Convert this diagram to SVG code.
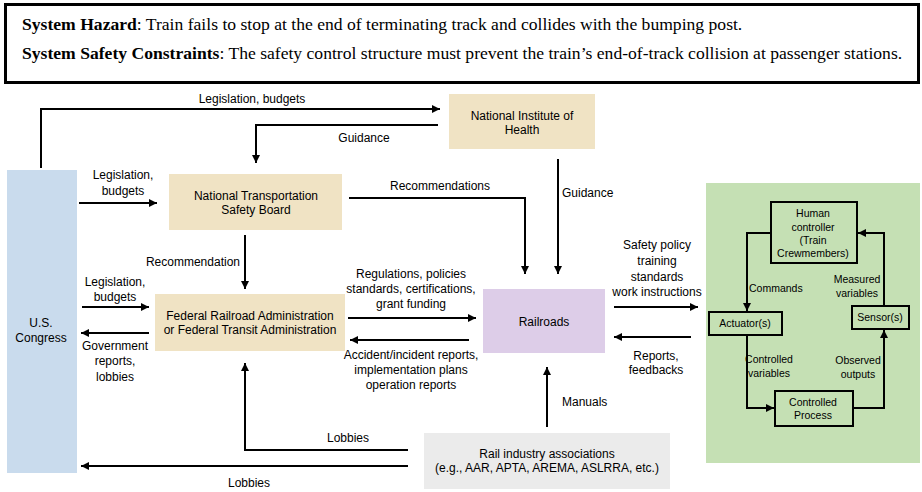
<svg xmlns="http://www.w3.org/2000/svg" width="922" height="492" viewBox="0 0 922 492">
<style>
.hdr{font-family:"Liberation Serif","Times New Roman",serif;font-size:17.6px;fill:#000}
.hdr .b{font-weight:bold}
.t{font-family:"Liberation Sans",Arial,sans-serif;font-size:12px;fill:#000;text-anchor:middle}
.s{font-family:"Liberation Sans",Arial,sans-serif;font-size:10.5px;fill:#000;text-anchor:middle}
.ln{fill:none;stroke:#000;stroke-width:2}
.gb{fill:none;stroke:#000;stroke-width:2}
</style>
<defs>
<marker id="ah" markerUnits="userSpaceOnUse" markerWidth="10" markerHeight="10" refX="8" refY="4" orient="auto">
<path d="M0,0 L8,4 L0,8 Z" fill="#000"/>
</marker>
</defs>
<rect width="922" height="492" fill="#fff"/>
<g id="header">
<rect x="5.5" y="4.5" width="913" height="78" fill="#fff" stroke="#000" stroke-width="3"/>
<text class="hdr" x="22" y="30"><tspan class="b">System Hazard</tspan>: Train fails to stop at the end of terminating track and collides with the bumping post.</text>
<text class="hdr" x="22" y="59"><tspan class="b">System Safety Constraints</tspan>: The safety control structure must prevent the train’s end-of-track collision at passenger stations.</text>
</g>
<g id="congress">
<rect x="7" y="170" width="70" height="303" fill="#c9dbed"/>
<text class="t" x="41" y="327">U.S.</text>
<text class="t" x="41" y="342">Congress</text>
</g>
<g id="nih">
<rect x="449" y="94" width="146" height="55" fill="#f0e3c4"/>
<text class="t" x="522" y="120">National Institute of</text>
<text class="t" x="522" y="134">Health</text>
</g>
<g id="ntsb">
<rect x="169" y="174" width="173" height="56" fill="#f0e3c4"/>
<text class="t" x="256" y="200">National Transportation</text>
<text class="t" x="256" y="214">Safety Board</text>
</g>
<g id="fra">
<rect x="155" y="294" width="190" height="57" fill="#f0e3c4"/>
<text class="t" x="250" y="320">Federal Railroad Administration</text>
<text class="t" x="250" y="334">or Federal Transit Administration</text>
</g>
<g id="railroads">
<rect x="483" y="289" width="122" height="64" fill="#ddcde8"/>
<text class="t" x="544" y="326">Railroads</text>
</g>
<g id="associations">
<rect x="424" y="433" width="246" height="56" fill="#ebebeb"/>
<text class="t" x="547" y="458">Rail industry associations</text>
<text class="t" x="547" y="472">(e.g., AAR, APTA, AREMA,  ASLRRA, etc.)</text>
</g>
<g id="process-panel">
<rect x="706" y="183" width="214" height="280" fill="#c5e0b4"/>
</g>
<g id="human-controller">
<rect class="gb" x="771" y="202" width="86" height="61"/>
<text class="s" x="813" y="217">Human</text>
<text class="s" x="813" y="231">controller</text>
<text class="s" x="813" y="244">(Train</text>
<text class="s" x="813" y="257">Crewmembers)</text>
</g>
<g id="actuator">
<rect class="gb" x="709" y="312" width="73" height="23"/>
<text class="s" x="745" y="327">Actuator(s)</text>
</g>
<g id="sensor">
<rect class="gb" x="852" y="306" width="57" height="23"/>
<text class="s" x="880" y="321">Sensor(s)</text>
</g>
<g id="controlled-process">
<rect class="gb" x="775" y="391" width="78" height="35"/>
<text class="s" x="813" y="406">Controlled</text>
<text class="s" x="813" y="419">Process</text>
</g>
<g id="connectors">
<path class="ln" d="M41,168 V109 H440" marker-end="url(#ah)"/>
<text class="t" x="252" y="103">Legislation, budgets</text>
<path class="ln" d="M438,125 H256 V163" marker-end="url(#ah)"/>
<text class="t" x="364" y="142">Guidance</text>
<path class="ln" d="M79,203 H157" marker-end="url(#ah)"/>
<text class="t" x="123" y="179">Legislation,</text>
<text class="t" x="123" y="195">budgets</text>
<path class="ln" d="M349,198 H525 V274" marker-end="url(#ah)"/>
<text class="t" x="440" y="190">Recommendations</text>
<path class="ln" d="M558,159 V274" marker-end="url(#ah)"/>
<text class="t" x="562" y="197" style="text-anchor:start">Guidance</text>
<path class="ln" d="M245,235 V289" marker-end="url(#ah)"/>
<text class="t" x="240" y="266" style="text-anchor:end">Recommendation</text>
<path class="ln" d="M82,307 H149" marker-end="url(#ah)"/>
<text class="t" x="115" y="286">Legislation,</text>
<text class="t" x="115" y="301">budgets</text>
<path class="ln" d="M149,333 H81" marker-end="url(#ah)"/>
<text class="t" x="115" y="350">Government</text>
<text class="t" x="115" y="365">reports,</text>
<text class="t" x="115" y="381">lobbies</text>
<path class="ln" d="M348,318 H476" marker-end="url(#ah)"/>
<text class="t" x="411" y="278">Regulations, policies</text>
<text class="t" x="411" y="293">standards, certifications,</text>
<text class="t" x="411" y="308">grant funding</text>
<path class="ln" d="M469,340 H350" marker-end="url(#ah)"/>
<text class="t" x="411" y="359">Accident/incident reports,</text>
<text class="t" x="411" y="374">implementation plans</text>
<text class="t" x="411" y="389">operation reports</text>
<path class="ln" d="M408,450 H245 V363" marker-end="url(#ah)"/>
<text class="t" x="348" y="442">Lobbies</text>
<path class="ln" d="M408,466 H81" marker-end="url(#ah)"/>
<text class="t" x="249" y="487">Lobbies</text>
<path class="ln" d="M547,427 V367" marker-end="url(#ah)"/>
<text class="t" x="562" y="406" style="text-anchor:start">Manuals</text>
<path class="ln" d="M614,307 H698" marker-end="url(#ah)"/>
<text class="t" x="657" y="249">Safety policy</text>
<text class="t" x="657" y="265">training</text>
<text class="t" x="657" y="281">standards</text>
<text class="t" x="657" y="296">work instructions</text>
<path class="ln" d="M691,337 H614" marker-end="url(#ah)"/>
<text class="t" x="656" y="360">Reports,</text>
<text class="t" x="656" y="374">feedbacks</text>
<path class="ln" d="M771,233 H747 V311" marker-end="url(#ah)"/>
<text class="s" x="749" y="292" style="text-anchor:start">Commands</text>
<path class="ln" d="M747,335 V408 H774" marker-end="url(#ah)"/>
<text class="s" x="769" y="363">Controlled</text>
<text class="s" x="769" y="377">variables</text>
<path class="ln" d="M853,408 H884 V330" marker-end="url(#ah)"/>
<text class="s" x="858" y="364">Observed</text>
<text class="s" x="858" y="378">outputs</text>
<path class="ln" d="M884,306 V233 H858" marker-end="url(#ah)"/>
<text class="s" x="857" y="283">Measured</text>
<text class="s" x="857" y="297">variables</text>
</g>
</svg>
